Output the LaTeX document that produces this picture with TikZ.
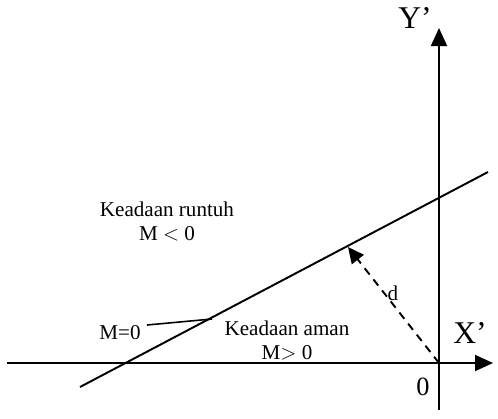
\documentclass[tikz,border=0pt]{standalone}
\usepackage{fontspec}
\setmainfont{Liberation Serif}
\usetikzlibrary{arrows.meta,positioning}

\tikzset{
    axis/.style={line width=1.1pt, -{Triangle[length=3.6mm,width=3.2mm]}},
    limit/.style={line width=1.1pt},
    lbl/.style={font=\fontsize{12}{14}\selectfont, align=center, inner sep=1pt},
    axislbl/.style={font=\fontsize{18}{20}\selectfont, inner sep=0pt}
}

\begin{document}
\begin{tikzpicture}
    \useasboundingbox (-8.78,-1.10) rectangle (1.18,7.26);

    % origin and end points
    \coordinate (O) at (0,0);
    \coordinate (xl) at (-8.64,0);
    \coordinate (xr) at (1.08,0);
    \coordinate (yb) at (0,-0.94);
    \coordinate (yt) at (0,6.70);
    \coordinate (la) at (-7.18,-0.48);
    \coordinate (lb) at (0.98,3.82);
    \coordinate (foot) at (-1.82,2.32);

    % axes
    \draw[axis] (xl) -- (xr);
    \draw[axis] (yb) -- (yt);
    \node[axislbl] (Xp) at (0.62,0.60) {X’};
    \node[axislbl] (Yp) at (-0.48,6.90) {Y’};
    \node[font=\fontsize{15}{17}\selectfont, inner sep=0pt] (zero) at (-0.32,-0.48) {0};

    % limit line M=0
    \draw[limit] (la) -- (lb);
    \coordinate (mtip) at (-4.54,0.88);
    \node[lbl] (m0) at (-6.38,0.60) {M=0};
    \draw[line width=0.9pt] (-5.84,0.76) -- (mtip);

    % distance d
    \draw[line width=1.1pt, dash pattern=on 4.5pt off 3.5pt,
          -{Triangle[length=3.2mm,width=3mm]}] (O) -- (foot);
    \node[lbl] (d) at (-0.92,1.40) {d};

    % regions
    \node[lbl] (runtuh) at (-5.44,2.83) {Keadaan runtuh\\M $<$ 0};
    \node[lbl] (aman) at (-3.04,0.45) {Keadaan aman\\M$>$ 0};
\end{tikzpicture}
\end{document}
